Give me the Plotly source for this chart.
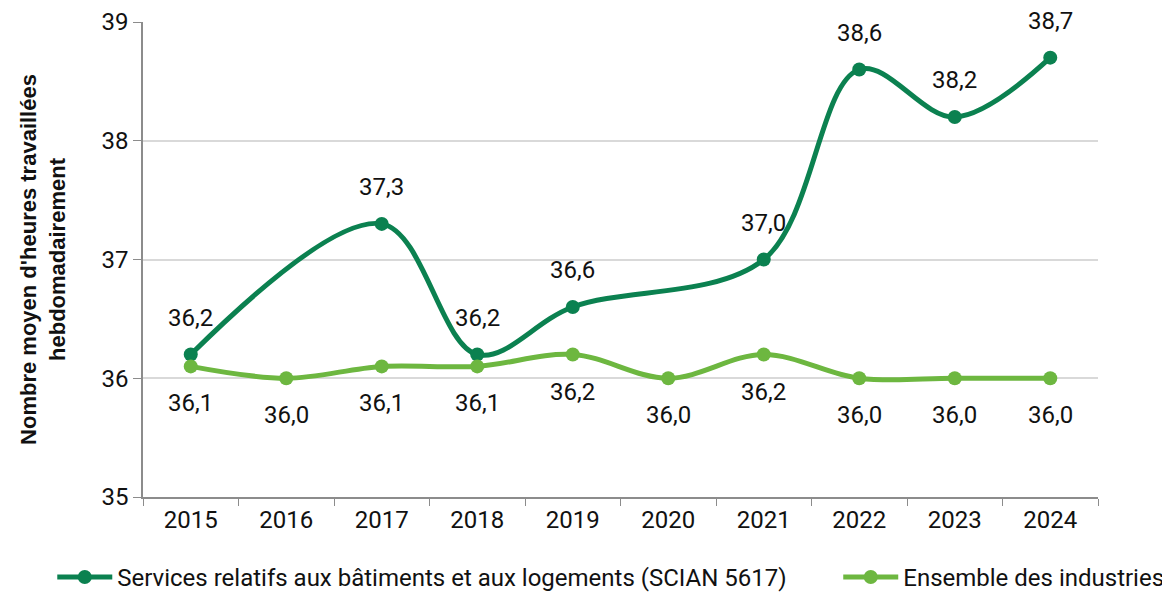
import plotly.graph_objects as go

annees = ["2015", "2016", "2017", "2018", "2019", "2020", "2021", "2022", "2023", "2024"]
services = [36.2, None, 37.3, 36.2, 36.6, None, 37.0, 38.6, 38.2, 38.7]
ensemble = [36.1, 36.0, 36.1, 36.1, 36.2, 36.0, 36.2, 36.0, 36.0, 36.0]

vert_fonce = "#0B8150"
vert_clair = "#6DB740"


def etiquette(v):
    return f"{v:.1f}".replace(".", ",")


fig = go.Figure()
fig.add_trace(go.Scatter(
    x=annees, y=services, name="Services relatifs aux bâtiments et aux logements (SCIAN 5617)",
    mode="lines+markers", connectgaps=True, legend="legend",
    line=dict(color=vert_fonce, width=5, shape="spline", smoothing=1.0),
    marker=dict(color=vert_fonce, size=14),
))
fig.add_trace(go.Scatter(
    x=annees, y=ensemble, name="Ensemble des industries",
    mode="lines+markers", legend="legend2",
    line=dict(color=vert_clair, width=5, shape="spline", smoothing=1.0),
    marker=dict(color=vert_clair, size=14),
))

# etiquettes de valeurs
for i, v in enumerate(services):
    if v is not None:
        fig.add_annotation(x=i, y=v, text=etiquette(v), showarrow=False, yshift=37,
                           font=dict(size=24, color="#111111"))
for i, v in enumerate(ensemble):
    fig.add_annotation(x=i, y=v, text=etiquette(v), showarrow=False, yshift=-37,
                       font=dict(size=24, color="#111111"))

fig.update_layout(
    width=1162, height=586,
    margin={'t': 14, 'b': 97, 'l': 135, 'r': 72, 'autoexpand': False},
    plot_bgcolor="white", paper_bgcolor="white",
    font=dict(family="Roboto", size=24, color="#111111"),
    showlegend=True,
    legend=dict(orientation="h", x=-0.095, xanchor="left", y=-0.122, yanchor="top",
                font=dict(size=24), itemwidth=55),
    legend2=dict(orientation="h", x=0.728, xanchor="left", y=-0.122, yanchor="top",
                 font=dict(size=24), itemwidth=55),
)
fig.update_xaxes(
    type="category", range=[-0.5, 9.5], automargin=False,
    showline=True, linecolor="#8c8c8c", linewidth=1.5,
    ticks="outside", tickson="boundaries", ticklen=7, tickcolor="#8c8c8c",
    showgrid=False, tickfont=dict(size=24),
)
fig.update_yaxes(
    range=[35, 39], dtick=1, automargin=False,
    showline=True, linecolor="#8c8c8c", linewidth=1.5,
    ticks="outside", ticklen=8, tickcolor="#8c8c8c",
    showgrid=True, gridcolor="#d9d9d9", gridwidth=1.5,
    tickfont=dict(size=24), zeroline=False,
    title=dict(text="<b>Nombre moyen d'heures travaillées<br>hebdomadairement</b>",
               font=dict(size=22, family="Liberation Sans, Arial"), standoff=30),
)

fig.write_html("out.html")
